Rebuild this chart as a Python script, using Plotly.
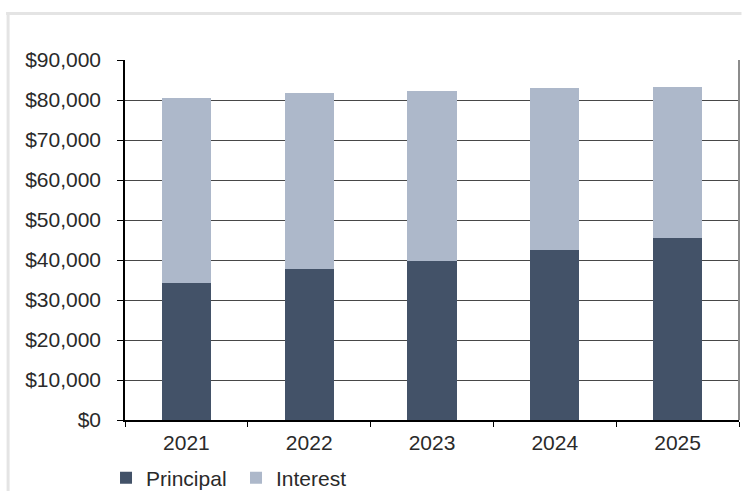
import plotly.graph_objects as go

years = ["2021", "2022", "2023", "2024", "2025"]
principal = [34300, 37700, 39800, 42400, 45500]
interest_total = [80600, 81850, 82350, 83000, 83300]
interest = [t - p for t, p in zip(interest_total, principal)]

y_ticks = [0, 10000, 20000, 30000, 40000, 50000, 60000, 70000, 80000, 90000]
y_labels = ["$0", "$10,000", "$20,000", "$30,000", "$40,000", "$50,000",
            "$60,000", "$70,000", "$80,000", "$90,000"]

font = dict(family="Liberation Sans, Arial, sans-serif", size=21, color="#2a2a2a")

fig = go.Figure()
fig.add_bar(x=years, y=principal, name="Principal", marker=dict(color="#435268", line=dict(width=0)))
fig.add_bar(x=years, y=interest, name="Interest", marker=dict(color="#adb8ca", line=dict(width=0)))

W, H = 742, 491
L, T = 125, 60
R = W - 739.5
B = H - 420
pw, ph = W - L - R, H - T - B


def px(x):
    return (x - L) / pw


def py(y):
    return (H - B - y) / ph


fig.update_layout(
    width=W, height=H,
    barmode="stack", bargap=0.6,
    margin=dict(l=L, r=R, t=T, b=B, autoexpand=False, pad=0),
    paper_bgcolor="white", plot_bgcolor="white",
    font=font,
    showlegend=True,
    legend=dict(orientation="h", x=px(106), xanchor="left", y=py(478), yanchor="middle",
                font=font, traceorder="normal", itemsizing="constant",
                entrywidth=85, bgcolor="rgba(0,0,0,0)"),
    xaxis=dict(type="category", tickson="boundaries", ticks="outside", ticklen=5,
               tickcolor="black", showline=True, linecolor="black", linewidth=1.5,
               showgrid=False, tickfont=font, automargin=False, ticklabelstandoff=3),
    yaxis=dict(range=[0, 90000], tickmode="array", tickvals=y_ticks, ticktext=y_labels,
               ticks="outside", ticklen=6, tickcolor="black", showline=True,
               linecolor="black", linewidth=1.5, showgrid=True, gridcolor="#484848",
               gridwidth=1, tickfont=font, zeroline=False, automargin=False,
               ticklabelstandoff=12),
    shapes=[
        dict(type="line", xref="paper", yref="paper", x0=1, x1=1, y0=0, y1=1,
             line=dict(color="#8c8c8c", width=2)),
        dict(type="line", xref="paper", yref="paper", x0=px(6), x1=px(742), y0=py(13.5), y1=py(13.5),
             line=dict(color="#e4e4e4", width=3)),
        dict(type="line", xref="paper", yref="paper", x0=px(8), x1=px(8), y0=py(12), y1=py(491),
             line=dict(color="#e4e4e4", width=3)),
    ],
)

fig.write_html(
    "out.html",
    config={"displayModeBar": False},
    post_script="document.body.style.margin='0';document.body.style.overflow='hidden';",
)
